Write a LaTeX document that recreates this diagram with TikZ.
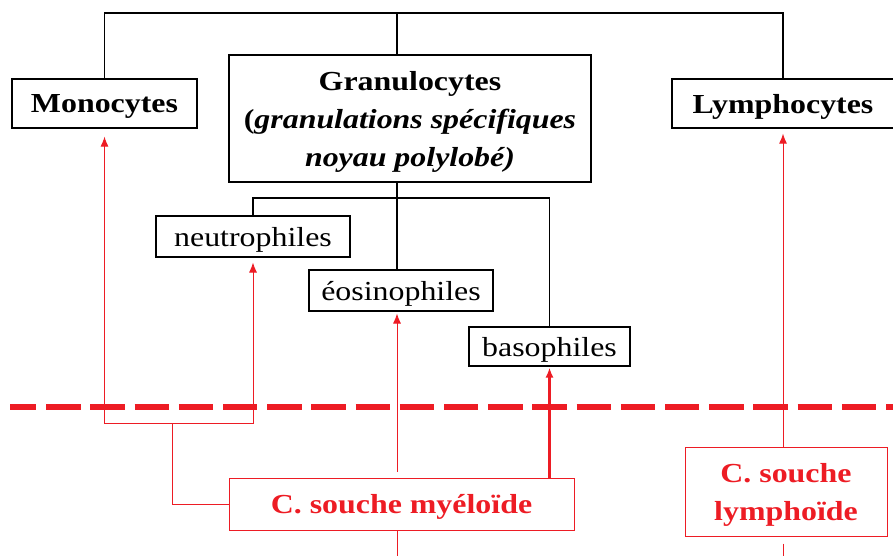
\documentclass[tikz,border=0pt]{standalone}
\usepackage{fontspec}
\setmainfont[FakeStretch=1.16]{Liberation Serif}
\usetikzlibrary{calc,arrows.meta}
\definecolor{stemred}{RGB}{237,28,36}

\begin{document}
\begin{tikzpicture}[x=1pt,y=-1pt,
    cell/.style={rectangle,draw=black,line width=1.3pt,inner sep=0pt,align=center,text depth=0pt,font=\fontsize{27.5}{38}\selectfont\bfseries},
    sub/.style={rectangle,draw=black,line width=1.1pt,inner sep=0pt,text depth=0pt,font=\fontsize{27.5}{38}\selectfont},
    stem/.style={rectangle,draw=stemred,line width=1pt,inner sep=0pt,align=center,text depth=0pt,text=stemred,font=\fontsize{27.5}{38}\selectfont\bfseries},
    link/.style={draw=black,line width=1.3pt},
    feed/.style={draw=stemred,line width=0.9pt,>={Latex[length=10pt,width=8pt]}},
    cut/.style={draw=stemred,line width=6pt,dash pattern=on 34.3pt off 9.9pt,dash phase=8pt}
]
    \useasboundingbox (0,0) rectangle (893,555);

    % mature cells
    \node[cell,minimum width=185pt,minimum height=49pt] (mono) at (104.5,103.5) {Monocytes};
    \node[cell,minimum width=362pt,minimum height=127pt] (granulo) at (410,118.5)
        {Granulocytes\\(\textit{granulations spécifiques}\\\textit{noyau polylobé)}};
    \node[cell,minimum width=222pt,minimum height=49pt] (lympho) at (783,103.5) {Lymphocytes};

    \node[sub,minimum width=194pt,minimum height=41pt] (neutro) at (253,236.5) {neutrophiles};
    \node[sub,minimum width=184pt,minimum height=41pt] (eosino) at (401,290.5) {éosinophiles};
    \node[sub,minimum width=161pt,minimum height=39pt] (baso) at (549.5,346.5) {basophiles};

    % stem cells
    \node[stem,minimum width=345pt,minimum height=52pt] (myelo) at (401.5,504) {C. souche myéloïde};
    \node[stem,minimum width=202pt,minimum height=89pt] (lymphoid) at (786,491.5) {C. souche\\lymphoïde};

    \coordinate (top) at (397,13);
    \coordinate (gbar) at (397,198);
    \coordinate (split) at (172,423);
    \coordinate (myout) at (397,560);
    \coordinate (lyout) at (783,560);

    % tree
    \draw[link] (mono.north) |- (top) -| (lympho.north);
    \draw[link] (top) -- (top |- granulo.north);
    \draw[link] (top |- granulo.south) -- (top |- eosino.north);
    \draw[link] (neutro.north) |- (gbar) -| (baso.north);

    % lineages
    \draw[feed] (myelo.west) -| (split);
    \draw[feed,->,shorten >=8pt] (split) -| (mono.south);
    \draw[feed,->,shorten >=5pt] (split) -| (neutro.south);
    \draw[feed,->,shorten <=6pt,shorten >=2pt] (top |- myelo.north) -- (top |- eosino.south);
    \draw[feed,->,line width=2.2pt,shorten >=1pt] (myelo.north -| baso.south) -- (baso.south);
    \draw[feed] (top |- myelo.south) -- (myout);
    \draw[feed,->,shorten >=5pt] (lymphoid.north -| lympho.south) -- (lympho.south);
    \draw[feed,shorten <=7pt] (lymphoid.south -| lyout) -- (lyout);

    \draw[cut] (10,407) -- (900,407);
\end{tikzpicture}
\end{document}
